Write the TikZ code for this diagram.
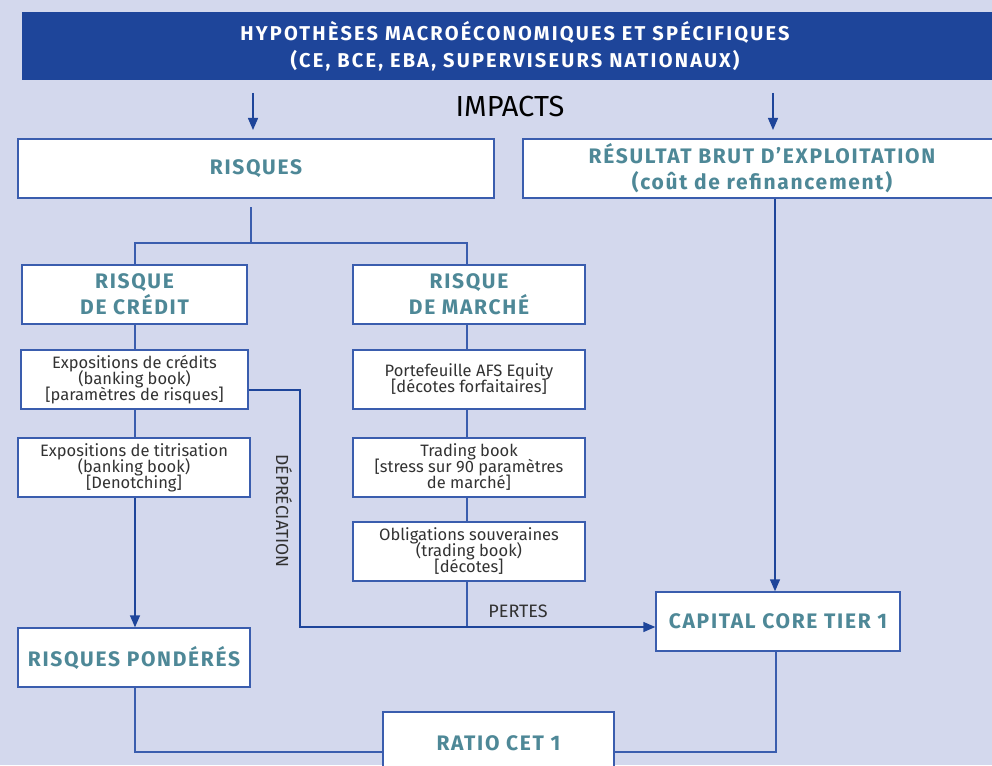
\documentclass[tikz,border=0pt]{standalone}
\usepackage{fontspec}
\setmainfont{Fira Sans}
\usetikzlibrary{arrows.meta,calc}
\definecolor{bg}{RGB}{211,216,237}
\definecolor{ban}{RGB}{30,69,154}
\definecolor{bord}{RGB}{58,93,174}
\definecolor{teal}{RGB}{78,136,151}
\definecolor{txt}{RGB}{50,50,50}
\newcommand\smallfnt{\fontsize{16.5}{16}\selectfont\setlength{\lineskiplimit}{-20pt}\setlength{\lineskip}{0pt}}
\tikzset{
  box/.style={draw=bord,line width=1.4pt,fill=white,inner sep=0pt,align=center},
  head/.style={box,text=teal,font=\fontsize{21}{26}\selectfont\bfseries\addfontfeature{LetterSpace=8}},
  small/.style={box,text=txt,font=\smallfnt,minimum width=232pt,minimum height=59pt},
  ln/.style={draw=bord,line width=1.4pt},
  arr/.style={ln,-{Triangle[length=12pt,width=10pt]},color=ban},
}
\begin{document}
\begin{tikzpicture}[x=1pt,y=-1pt]
\fill[bg] (0,0) rectangle (992,765);
\useasboundingbox (0,0) rectangle (992,765);
\begin{scope}
\clip (0,0) rectangle (992,765);
\node[fill=ban,inner sep=0pt,minimum width=986pt,minimum height=68pt,text=white,align=center,
  font=\fontsize{20}{27}\selectfont\bfseries\addfontfeature{LetterSpace=11}] (banner) at (515,46)
  {HYPOTHÈSES MACROÉCONOMIQUES ET SPÉCIFIQUES\\(CE, BCE, EBA, SUPERVISEURS NATIONAUX)};
\node[font=\fontsize{29}{32}\selectfont,text=black] (impacts) at (510,107) {IMPACTS};
\node[head,minimum width=476pt,minimum height=59pt] (risques) at (256,168.5) {RISQUES};
\node[head,minimum width=478pt,minimum height=59pt] (resultat) at (762,168.5)
  {RÉSULTAT BRUT D’EXPLOITATION\\(coût de refinancement)};
\node[head,minimum width=225pt,minimum height=59pt] (credit) at (134.5,294.5) {RISQUE\\DE CRÉDIT};
\node[head,minimum width=232pt,minimum height=59pt] (marche) at (469,294.5) {RISQUE\\DE MARCHÉ};
\node[small,minimum width=227pt] (expcred) at (134.5,379.5) {Expositions de crédits\\(banking book)\\{[paramètres de risques]}};
\node[small] (exptit) at (134,467.5) {Expositions de titrisation\\(banking book)\\{[Denotching]}};
\node[small] (portef) at (469,379.5) {Portefeuille AFS Equity\\{[décotes forfaitaires]}};
\node[small] (trading) at (469,467.5) {Trading book\\{[stress sur 90 paramètres}\\de marché{]}};
\node[small] (oblig) at (469,551.5) {Obligations souveraines\\(trading book)\\{[décotes]}};
\node[head,minimum width=244pt,minimum height=59pt] (capital) at (778,621.5) {CAPITAL CORE TIER 1};
\node[head,minimum width=232pt,minimum height=59pt] (ponderes) at (134,657.5) {RISQUES PONDÉRÉS};
\node[head,minimum width=231pt,minimum height=62pt] (ratio) at (498.5,743) {RATIO CET 1};
\node[rotate=-90,text=txt,font=\fontsize{17.5}{18}\selectfont] (deprec) at (284,511) {DÉPRÉCIATION};
\node[text=txt,font=\fontsize{18}{18}\selectfont] (pertes) at (518,611) {PERTES};
% arrows from banner
\coordinate (a1) at (253,93);
\coordinate (a2) at (773,93);
\draw[arr] (a1) -- (a1 |- 0,130);
\draw[arr] (a2) -- (a2 |- 0,130);
% tree
\coordinate (t0) at (251,207);
\draw[ln] (t0) -- (251,243) -- (135,243) -- (credit.north -| 135,0);
\draw[ln] (251,243) -- (467,243) -- (marche.north -| 467,0);
\draw[ln] (credit.south -| 135,0) -- (expcred.north -| 135,0);
\draw[ln] (expcred.south -| 135,0) -- (exptit.north -| 135,0);
\draw[arr] (exptit.south -| 135,0) -- (ponderes.north -| 135,0);
\draw[ln] (marche.south -| 467,0) -- (portef.north -| 467,0);
\draw[ln] (portef.south -| 467,0) -- (trading.north -| 467,0);
\draw[ln] (trading.south -| 467,0) -- (oblig.north -| 467,0);
\draw[ln] (oblig.south -| 467,0) -- (467,627);
\draw[arr] (expcred.east |- 0,390) -- (300,390) -- (300,627) -- (capital.west |- 0,627);
\draw[arr] (resultat.south -| 775,0) -- (capital.north -| 775,0);
\draw[ln] (ponderes.south -| 135,0) -- (135,752) -- (ratio.west |- 0,752);
\draw[ln] (capital.south -| 776,0) -- (776,752) -- (ratio.east |- 0,752);
\end{scope}
\end{tikzpicture}
\end{document}
